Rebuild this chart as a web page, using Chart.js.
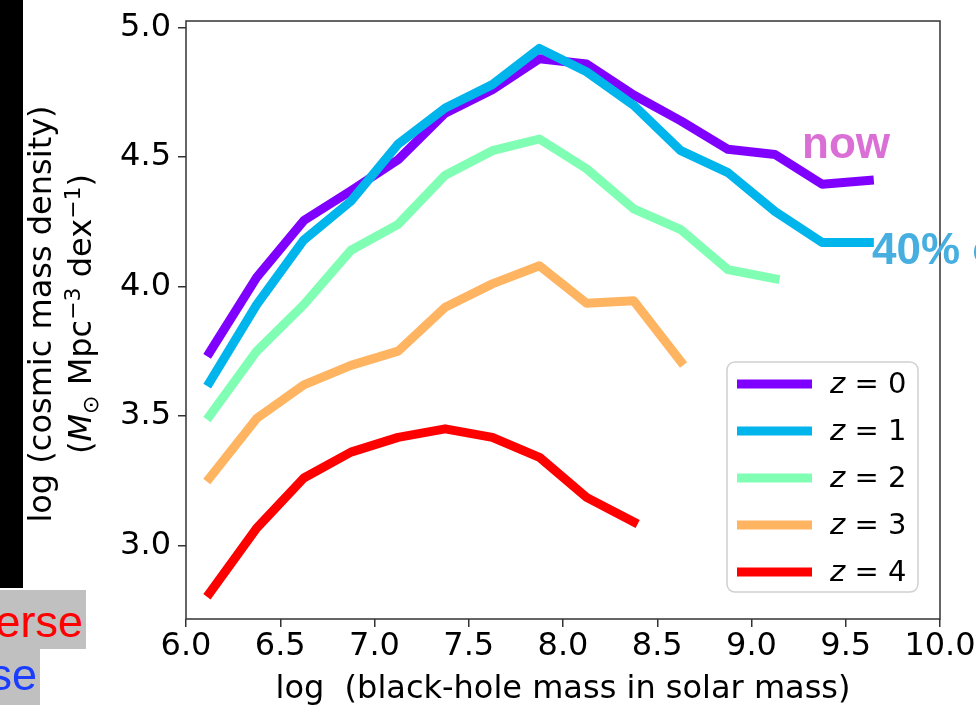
<!DOCTYPE html>
<html>
<head>
<meta charset="utf-8">
<script src="https://cdn.jsdelivr.net/npm/chart.js@4.4.1/dist/chart.umd.min.js"></script>
<style>
  html, body { margin: 0; padding: 0; background: #fff; }
  #wrap { position: relative; width: 976px; height: 725px; overflow: hidden; }
  #chart { position: absolute; left: 0; top: 0; }
  .strip { position: absolute; left: 0; top: 0; width: 23px; height: 588px; background: #000; }
  .tag { position: absolute; left: 0; background: #c0c0c0; overflow: hidden;
         font-family: "Liberation Sans", Arial, sans-serif; font-size: 45px; line-height: 1; }
  .tag span { position: absolute; white-space: nowrap; }
</style>
</head>
<body>
<div id="wrap">
  <canvas id="chart" width="976" height="725"></canvas>
  <div class="strip"></div>
  <div class="tag" style="top:590px;width:86px;height:59px;"><span style="right:3px;top:9px;color:#ff0000;">Universe</span></div>
  <div class="tag" style="top:649px;width:40px;height:56px;"><span style="right:3px;top:3px;color:#1a3dff;">Universe</span></div>
</div>
<script>
// x: log black-hole mass bins
const logMass = [6.125, 6.375, 6.625, 6.875, 7.125, 7.375, 7.625, 7.875, 8.125, 8.375, 8.625, 8.875, 9.125, 9.375, 9.625];

// y: log cosmic mass density, one list per redshift
const densityZ0 = [3.745, 4.035, 4.255, 4.37, 4.49, 4.67, 4.76, 4.88, 4.86, 4.74, 4.64, 4.53, 4.51, 4.395, 4.41];
const densityZ1 = [3.63, 3.93, 4.18, 4.33, 4.55, 4.69, 4.78, 4.92, 4.83, 4.70, 4.525, 4.44, 4.29, 4.17, 4.17];
const densityZ2 = [3.50, 3.75, 3.93, 4.14, 4.24, 4.43, 4.525, 4.57, 4.455, 4.30, 4.22, 4.065, 4.03];
const densityZ3 = [3.26, 3.49, 3.62, 3.695, 3.75, 3.92, 4.01, 4.08, 3.935, 3.945, 3.71];
const densityZ4 = [2.815, 3.066, 3.26, 3.36, 3.417, 3.45, 3.417, 3.34, 3.185, 3.09];

const redshifts = ["0", "1", "2", "3", "4"];
const lineColors = ["#8000ff", "#00b4ec", "#80ffb4", "#ffb462", "#ff0000"];

const xTicks = [6.0, 6.5, 7.0, 7.5, 8.0, 8.5, 9.0, 9.5, 10.0];
const yTicks = [3.0, 3.5, 4.0, 4.5, 5.0];

const xTitle = "log  (black-hole mass in solar mass)";
const yTitleTop = "log (cosmic mass density)";

const seriesList = [densityZ0, densityZ1, densityZ2, densityZ3, densityZ4];
const FONT = '"DejaVu Sans", sans-serif';

const datasets = seriesList.map((vals, i) => ({
  label: "z = " + redshifts[i],
  data: vals.map((v, j) => ({ x: logMass[j], y: v })),
  borderColor: lineColors[i],
  backgroundColor: lineColors[i],
  borderWidth: 9,
  borderCapStyle: "square",
  borderJoinStyle: "round",
  pointRadius: 0,
  tension: 0,
  fill: false,
  order: seriesList.length - i
}));

// box around the plot area
const framePlugin = {
  id: "frame",
  afterDraw(chart) {
    const { ctx, chartArea: a } = chart;
    ctx.save();
    ctx.strokeStyle = "#333";
    ctx.lineWidth = 1.5;
    ctx.strokeRect(a.left, a.top, a.right - a.left, a.bottom - a.top);
    ctx.restore();
  }
};

// two-line y title with italic M, subscript sun and superscripts
const yTitlePlugin = {
  id: "yTitle",
  afterDraw(chart) {
    const { ctx, chartArea: a } = chart;
    const cy = (a.top + a.bottom) / 2 - 6;
    ctx.save();
    ctx.fillStyle = "#000";
    ctx.textBaseline = "middle";
    ctx.translate(43, cy);
    ctx.rotate(-Math.PI / 2);
    ctx.font = "32px " + FONT;
    ctx.textAlign = "center";
    ctx.fillText(yTitleTop, 0, 0);
    ctx.restore();

    const pieces = [
      { t: "(", f: "32px " + FONT, dy: 0 },
      { t: "M", f: "italic 32px " + FONT, dy: 0 },
      { t: "\u2299", f: "22px " + FONT, dy: 7 },
      { t: " Mpc", f: "32px " + FONT, dy: 0 },
      { t: "\u22123", f: "22px " + FONT, dy: -11 },
      { t: " dex", f: "32px " + FONT, dy: 0 },
      { t: "\u22121", f: "22px " + FONT, dy: -11 },
      { t: ")", f: "32px " + FONT, dy: 0 }
    ];
    ctx.save();
    ctx.fillStyle = "#000";
    ctx.textBaseline = "alphabetic";
    ctx.textAlign = "left";
    let total = 0;
    pieces.forEach(p => { ctx.font = p.f; p.w = ctx.measureText(p.t).width; total += p.w; });
    ctx.translate(80, cy);
    ctx.rotate(-Math.PI / 2);
    let x = -total / 2;
    pieces.forEach(p => {
      ctx.font = p.f;
      ctx.fillText(p.t, x, 11 + p.dy);
      x += p.w;
    });
    ctx.restore();
  }
};

// legend inside the lower right of the plot
const legendPlugin = {
  id: "zLegend",
  afterDraw(chart) {
    const { ctx, chartArea: a } = chart;
    const w = 191, h = 230;
    const x0 = a.right - 22 - w, y0 = a.bottom - 27 - h;
    ctx.save();
    ctx.beginPath();
    ctx.roundRect(x0, y0, w, h, 8);
    ctx.fillStyle = "rgba(255,255,255,0.8)";
    ctx.fill();
    ctx.strokeStyle = "#d0d0d0";
    ctx.lineWidth = 1.5;
    ctx.stroke();
    chart.data.datasets.forEach((ds, i) => {
      const y = y0 + 22 + i * 47;
      ctx.beginPath();
      ctx.moveTo(x0 + 14.5, y);
      ctx.lineTo(x0 + 80.5, y);
      ctx.strokeStyle = ds.borderColor;
      ctx.lineWidth = ds.borderWidth;
      ctx.lineCap = "square";
      ctx.stroke();
      ctx.fillStyle = "#000";
      ctx.textBaseline = "middle";
      ctx.textAlign = "left";
      ctx.font = "italic 29px " + FONT;
      ctx.fillText("z", x0 + 103, y + 1);
      const zw = ctx.measureText("z").width;
      ctx.font = "29px " + FONT;
      ctx.fillText(" = " + redshifts[i], x0 + 103 + zw, y + 1);
    });
    ctx.restore();
  }
};

// coloured labels next to the line ends
const notePlugin = {
  id: "notes",
  afterDraw(chart) {
    const { ctx, scales } = chart;
    ctx.save();
    ctx.font = 'bold 44px "Liberation Sans", Arial, sans-serif';
    ctx.textAlign = "left";
    ctx.textBaseline = "alphabetic";
    ctx.fillStyle = "#da70d6";
    ctx.fillText("now", scales.x.getPixelForValue(9.268), scales.y.getPixelForValue(4.496));
    ctx.fillStyle = "#46afe0";
    ctx.fillText("40% of age", scales.x.getPixelForValue(9.639), scales.y.getPixelForValue(4.088));
    ctx.restore();
  }
};

new Chart(document.getElementById("chart"), {
  type: "line",
  data: { datasets },
  plugins: [framePlugin, yTitlePlugin, legendPlugin, notePlugin],
  options: {
    responsive: false,
    animation: false,
    devicePixelRatio: 1,
    layout: { padding: { left: 0, right: 36, top: 21, bottom: 0 } },
    plugins: { legend: { display: false }, tooltip: { enabled: false } },
    scales: {
      x: {
        type: "linear",
        min: 6.0,
        max: 10.0,
        afterFit: s => { s.height = 106; s.paddingLeft = 0; s.paddingRight = 0; },
        afterBuildTicks: s => { s.ticks = xTicks.map(v => ({ value: v })); },
        ticks: {
          font: { family: FONT, size: 32 },
          color: "#000",
          padding: 0,
          maxRotation: 0,
          autoSkip: false,
          callback: v => Number(v).toFixed(1)
        },
        grid: { drawOnChartArea: false, tickLength: 8, color: "#333", lineWidth: 1.5 },
        border: { display: false },
        title: {
          display: true,
          text: xTitle,
          font: { family: FONT, size: 32 },
          color: "#000",
          padding: { top: 0, bottom: 16 }
        }
      },
      y: {
        type: "linear",
        min: 2.715,
        max: 5.026,
        afterFit: s => { s.width = 186; s.paddingTop = 0; s.paddingBottom = 0; },
        afterBuildTicks: s => { s.ticks = yTicks.map(v => ({ value: v })); },
        ticks: {
          font: { family: FONT, size: 32 },
          color: "#000",
          padding: 7,
          callback: v => Number(v).toFixed(1)
        },
        grid: { drawOnChartArea: false, tickLength: 8, color: "#333", lineWidth: 1.5 },
        border: { display: false }
      }
    }
  }
});
</script>
</body>
</html>
